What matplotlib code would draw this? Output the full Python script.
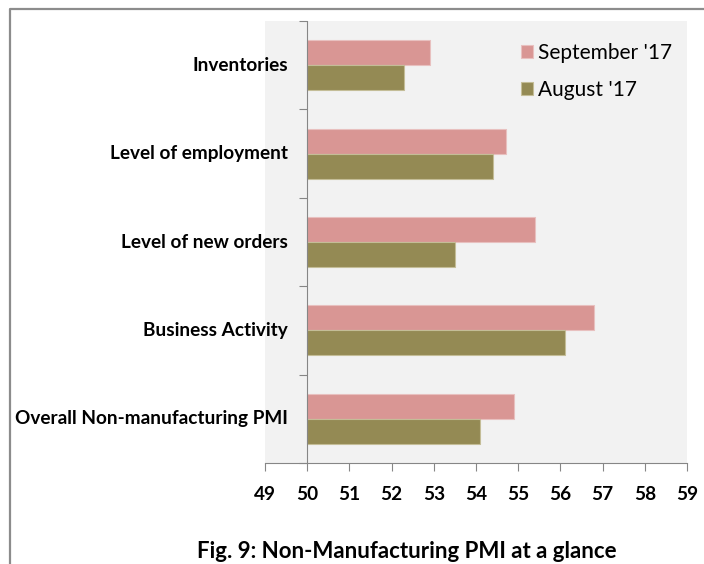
import matplotlib.pyplot as plt
import numpy as np
from matplotlib.lines import Line2D
from matplotlib.transforms import offset_copy

plt.rcParams['font.family'] = ['Lato', 'DejaVu Sans']

categories = ['Overall Non-manufacturing PMI', 'Business Activity',
              'Level of new orders', 'Level of employment', 'Inventories']
sep_17 = [54.9, 56.8, 55.4, 54.7, 52.9]
aug_17 = [54.1, 56.1, 53.5, 54.4, 52.3]
series_labels = ["September '17", "August '17"]
x_ticks = list(range(49, 60))
baseline = 50

W, H = 704, 564
axis_grey = '#868686'
fig = plt.figure(figsize=(W / 100, H / 100), dpi=100)
ax = fig.add_axes([265 / W, 1 - 463 / H, 422 / W, 442 / H])
ax.set_facecolor('#f2f2f2')

y = np.arange(len(categories))
bh = 0.283
ax.barh(y + bh / 2, np.array(sep_17) - baseline, height=bh, left=baseline,
        color='#d99694', edgecolor='#e8c0bf', linewidth=0.8, label=series_labels[0])
ax.barh(y - bh / 2, np.array(aug_17) - baseline, height=bh, left=baseline,
        color='#948a54', edgecolor='#c4bd97', linewidth=0.8, label=series_labels[1])

ax.set_xlim(49, 59)
ax.set_ylim(-0.5, len(categories) - 0.5)
ax.set_xticks(x_ticks)
ax.set_xticklabels([str(t) for t in x_ticks], fontsize=13.7, fontweight='bold')
ax.tick_params(axis='x', length=5.8, color=axis_grey, pad=11)
ax.set_yticks([])

for s in ['top', 'right', 'left']:
    ax.spines[s].set_visible(False)
ax.spines['bottom'].set_color(axis_grey)

# vertical axis crosses at 50 (Excel style), with ticks between categories
ax.axvline(baseline, color=axis_grey, lw=0.8)
tick_len = 8 / (422 / 10)  # 8 px in data units
ax.hlines(np.arange(-0.5, len(categories)), baseline - tick_len, baseline,
          color=axis_grey, lw=0.8, clip_on=False)
lbl_trans = offset_copy(ax.transData, fig=fig, x=-19, y=0, units='dots')
for yi, name in zip(y, categories):
    ax.text(baseline, yi, name, transform=lbl_trans, ha='right', va='center',
            fontsize=13.7, fontweight='bold')

ax.legend(loc='upper left', bbox_to_anchor=(521 / W, 1 - 43 / H),
          bbox_transform=fig.transFigure, frameon=False, fontsize=15,
          handlelength=0.58, handleheight=0.58, handletextpad=0.25,
          labelspacing=0.83, borderpad=0, borderaxespad=0)

fig.text(407 / W, 1 - 552 / H, 'Fig. 9: Non-Manufacturing PMI at a glance',
         ha='center', va='center', fontsize=16, fontweight='bold')

# outer frame (top and left edges)
fig.add_artist(Line2D([10 / W, 10 / W, 1], [0, 1 - 8.5 / H, 1 - 8.5 / H],
                      transform=fig.transFigure, color='#8c8c8c', lw=1.6))

fig.savefig('out.png', dpi=100)
